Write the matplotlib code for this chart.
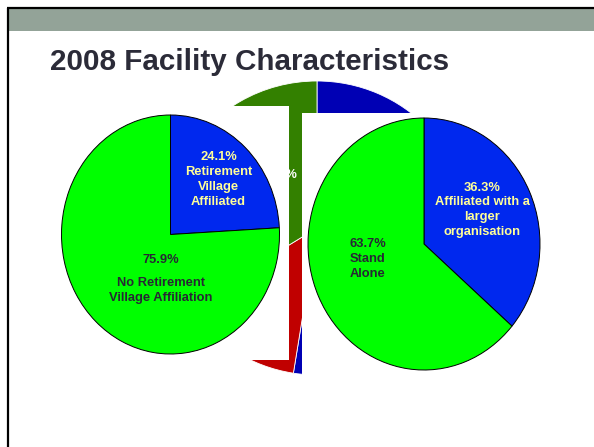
import matplotlib
matplotlib.use("Agg")
import matplotlib.pyplot as plt
import matplotlib.patches as patches

# data
left_labels = ["Retirement Village Affiliated", "No Retirement Village Affiliation"]
left_values = [24.1, 75.9]
right_labels = ["Affiliated with a larger organisation", "Stand Alone"]
right_values = [36.3, 63.7]
back_values = [52.5, 13.6, 33.9]  # partly hidden pie behind the two charts

W, H = 594, 447
FONT = ["Liberation Sans", "DejaVu Sans"]
DARK = "#272734"
PALE = "#ffff99"
LBL = 9.3
LS = 1.33


def pie_axes(fig, cx, cy, rx, ry, z):
    """Axes whose -1..1 box is the pie's bounding box (pixels, y down)."""
    ax = fig.add_axes([(cx - rx) / W, 1 - (cy + ry) / H, 2 * rx / W, 2 * ry / H], zorder=z)
    return ax


def finish(ax):
    ax.set_aspect("auto")
    ax.set_xlim(-1, 1)
    ax.set_ylim(-1, 1)
    ax.axis("off")


fig = plt.figure(figsize=(W / 100, H / 100), dpi=100)

# slide background, frame, header bar, title
base = fig.add_axes([0, 0, 1, 1], zorder=0)
base.set_xlim(0, W)
base.set_ylim(H, 0)
base.axis("off")
base.add_patch(patches.Rectangle((9, 9), W - 9, 22, facecolor="#93a398", edgecolor="none"))
base.plot([7, W], [8, 8], color="black", lw=1.6, solid_capstyle="butt")
base.plot([7.5, 7.5], [8, H], color="black", lw=1.6, solid_capstyle="butt")
base.text(50, 70, "2008 Facility Characteristics", fontsize=21.3, fontweight="bold",
          color="#2b2b38", family=FONT, ha="left", va="baseline")

# background pie
axb = pie_axes(fig, 317, 228, 151, 147, 1)
axb.pie(back_values, colors=["#0000b4", "#c00000", "#338000"], startangle=90,
        counterclock=False, radius=1,
        wedgeprops=dict(edgecolor="white", linewidth=0.6))
finish(axb)
axb.text(-0.13, 0.36, "33.9%", color="white", fontsize=LBL, fontweight="bold",
         family=FONT, ha="right", va="center")

# white chart areas covering the background pie
cover = fig.add_axes([0, 0, 1, 1], zorder=2)
cover.set_xlim(0, W)
cover.set_ylim(H, 0)
cover.axis("off")
cover.add_patch(patches.Rectangle((20, 106), 269, 254, facecolor="white", edgecolor="none"))
cover.add_patch(patches.Rectangle((302, 113), W - 302, H - 113, facecolor="white", edgecolor="none"))

# left pie
axl = pie_axes(fig, 170.5, 234.5, 109, 119.5, 3)
axl.pie(left_values, colors=["#0028ee", "#00ff00"], startangle=90, counterclock=False,
        radius=1, wedgeprops=dict(edgecolor="black", linewidth=0.7))
finish(axl)
axl.text(0.44, 0.46, "%.1f%%\nRetirement\nVillage\nAffiliated" % left_values[0],
         color=PALE, fontsize=LBL, fontweight="bold", family=FONT,
         ha="center", va="center", linespacing=LS)
axl.text(-0.09, -0.215, "%.1f%%" % left_values[1], color=DARK, fontsize=LBL,
         fontweight="bold", family=FONT, ha="center", va="center")
axl.text(-0.087, -0.47, "No Retirement\nVillage Affiliation", color=DARK, fontsize=LBL,
         fontweight="bold", family=FONT, ha="center", va="center", linespacing=LS)

# right pie
axr = pie_axes(fig, 424, 244, 116, 126, 3)
axr.pie(right_values, colors=["#0028ee", "#00ff00"], startangle=90, counterclock=False,
        radius=1, wedgeprops=dict(edgecolor="black", linewidth=0.7))
finish(axr)
axr.text(0.5, 0.27, "%.1f%%\nAffiliated with a\nlarger\norganisation" % right_values[0],
         color=PALE, fontsize=LBL, fontweight="bold", family=FONT,
         ha="center", va="center", linespacing=LS)
axr.text(-0.483, -0.119, "%.1f%%\nStand\nAlone" % right_values[1], color=DARK,
         fontsize=LBL, fontweight="bold", family=FONT, ha="center", va="center",
         linespacing=LS)

fig.savefig("out.png", dpi=100)
